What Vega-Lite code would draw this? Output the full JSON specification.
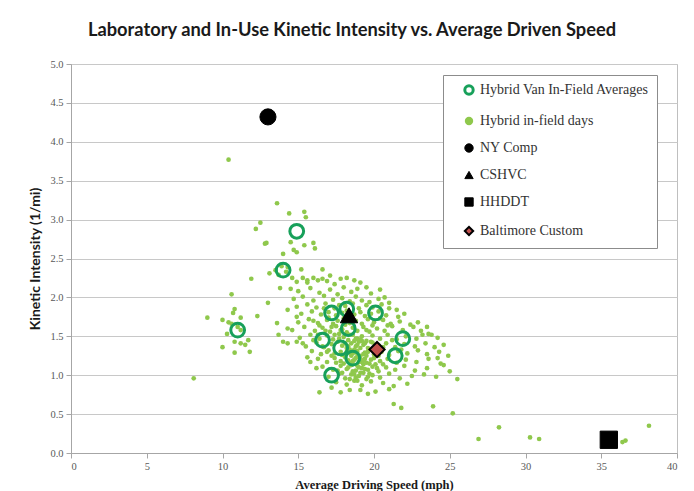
{
  "$schema": "https://vega.github.io/schema/vega-lite/v6.json",
  "autosize": "none",
  "width": 606,
  "height": 389,
  "padding": {"left": 71, "top": 64, "right": 17, "bottom": 38},
  "background": "white",
  "title": {
    "text": "Laboratory and In-Use Kinetic Intensity vs. Average Driven Speed",
    "font": "Lato",
    "fontSize": 18.3,
    "fontWeight": "bold",
    "color": "#1a1a1a",
    "anchor": "middle",
    "dx": -22,
    "offset": 19
  },
  "config": {
    "view": {"stroke": "#bfbfbf", "strokeWidth": 1},
    "axis": {
      "labelFont": "Liberation Serif",
      "labelFontSize": 10.5,
      "labelColor": "#595959",
      "domainColor": "#a6a6a6",
      "tickColor": "#a6a6a6",
      "tickSize": 5,
      "labelPadding": 3,
      "gridColor": "#c8c8c8",
      "titleColor": "#1a1a1a"
    },
    "legend": {
      "labelFont": "Liberation Serif",
      "labelFontSize": 14,
      "labelColor": "#333333",
      "labelLimit": 300
    }
  },
  "data": {
    "values": [
      {"g": "B", "speed": 11.9, "ki": 2.24}, {"g": "B", "speed": 10.6, "ki": 2.04}, {"g": "B", "speed": 9.0, "ki": 1.74}, {"g": "B", "speed": 10.0, "ki": 1.71},
      {"g": "B", "speed": 10.7, "ki": 1.8}, {"g": "B", "speed": 10.8, "ki": 1.85}, {"g": "B", "speed": 10.4, "ki": 1.68}, {"g": "B", "speed": 11.2, "ki": 1.74},
      {"g": "B", "speed": 12.3, "ki": 1.76}, {"g": "B", "speed": 13.0, "ki": 1.93}, {"g": "B", "speed": 11.2, "ki": 1.58}, {"g": "B", "speed": 10.3, "ki": 1.53},
      {"g": "B", "speed": 10.8, "ki": 1.43}, {"g": "B", "speed": 11.2, "ki": 1.41}, {"g": "B", "speed": 11.5, "ki": 1.39}, {"g": "B", "speed": 11.7, "ki": 1.45},
      {"g": "B", "speed": 11.8, "ki": 1.3}, {"g": "B", "speed": 10.0, "ki": 1.36}, {"g": "B", "speed": 10.8, "ki": 1.29}, {"g": "B", "speed": 8.1, "ki": 0.96},
      {"g": "B", "speed": 13.6, "ki": 1.67}, {"g": "B", "speed": 13.7, "ki": 1.52}, {"g": "B", "speed": 14.3, "ki": 1.84}, {"g": "B", "speed": 14.3, "ki": 1.6},
      {"g": "B", "speed": 14.0, "ki": 1.43}, {"g": "B", "speed": 10.4, "ki": 3.77}, {"g": "B", "speed": 11.0, "ki": 1.62}, {"g": "B", "speed": 10.6, "ki": 1.66},
      {"g": "B", "speed": 13.6, "ki": 3.21}, {"g": "B", "speed": 14.4, "ki": 3.08}, {"g": "B", "speed": 15.4, "ki": 3.1}, {"g": "B", "speed": 15.5, "ki": 3.03},
      {"g": "B", "speed": 12.5, "ki": 2.96}, {"g": "B", "speed": 12.2, "ki": 2.88}, {"g": "B", "speed": 12.9, "ki": 2.7}, {"g": "B", "speed": 12.8, "ki": 2.69},
      {"g": "B", "speed": 14.5, "ki": 2.71}, {"g": "B", "speed": 14.7, "ki": 2.61}, {"g": "B", "speed": 14.9, "ki": 2.58}, {"g": "B", "speed": 15.4, "ki": 2.67},
      {"g": "B", "speed": 16.0, "ki": 2.7}, {"g": "B", "speed": 16.1, "ki": 2.63}, {"g": "B", "speed": 14.0, "ki": 2.56}, {"g": "B", "speed": 13.1, "ki": 2.31},
      {"g": "B", "speed": 13.5, "ki": 2.35}, {"g": "B", "speed": 13.7, "ki": 2.29}, {"g": "B", "speed": 14.3, "ki": 2.39}, {"g": "B", "speed": 15.2, "ki": 2.36},
      {"g": "B", "speed": 16.6, "ki": 2.36}, {"g": "B", "speed": 14.6, "ki": 2.25}, {"g": "B", "speed": 14.9, "ki": 2.2}, {"g": "B", "speed": 15.3, "ki": 2.25},
      {"g": "B", "speed": 15.6, "ki": 2.22}, {"g": "B", "speed": 13.8, "ki": 2.12}, {"g": "B", "speed": 14.5, "ki": 2.11}, {"g": "B", "speed": 16.0, "ki": 2.25},
      {"g": "B", "speed": 16.3, "ki": 2.22}, {"g": "B", "speed": 16.6, "ki": 2.24}, {"g": "B", "speed": 13.9, "ki": 2.4}, {"g": "B", "speed": 14.2, "ki": 2.33},
      {"g": "B", "speed": 15.6, "ki": 2.19}, {"g": "B", "speed": 16.9, "ki": 2.21}, {"g": "B", "speed": 17.4, "ki": 2.17}, {"g": "B", "speed": 17.8, "ki": 2.24},
      {"g": "B", "speed": 18.2, "ki": 2.25}, {"g": "B", "speed": 18.7, "ki": 2.22}, {"g": "B", "speed": 19.1, "ki": 2.19}, {"g": "B", "speed": 19.5, "ki": 2.13},
      {"g": "B", "speed": 20.4, "ki": 2.1}, {"g": "B", "speed": 17.1, "ki": 2.28},
      {"g": "B", "speed": 15.0, "ki": 2.08}, {"g": "B", "speed": 15.8, "ki": 2.12}, {"g": "B", "speed": 16.4, "ki": 2.06}, {"g": "B", "speed": 17.1, "ki": 2.1},
      {"g": "B", "speed": 17.6, "ki": 2.04}, {"g": "B", "speed": 18.0, "ki": 2.13}, {"g": "B", "speed": 18.5, "ki": 2.07}, {"g": "B", "speed": 18.9, "ki": 2.11},
      {"g": "B", "speed": 19.8, "ki": 2.05}, {"g": "B", "speed": 20.7, "ki": 2.0},
      {"g": "B", "speed": 14.7, "ki": 1.98}, {"g": "B", "speed": 15.3, "ki": 2.01}, {"g": "B", "speed": 16.0, "ki": 1.96}, {"g": "B", "speed": 16.7, "ki": 2.02},
      {"g": "B", "speed": 17.3, "ki": 1.97}, {"g": "B", "speed": 17.9, "ki": 1.99}, {"g": "B", "speed": 18.4, "ki": 1.95}, {"g": "B", "speed": 18.8, "ki": 2.01},
      {"g": "B", "speed": 19.2, "ki": 1.96}, {"g": "B", "speed": 19.7, "ki": 1.94}, {"g": "B", "speed": 20.3, "ki": 1.98}, {"g": "B", "speed": 21.0, "ki": 1.93},
      {"g": "B", "speed": 14.9, "ki": 1.88}, {"g": "B", "speed": 15.6, "ki": 1.91}, {"g": "B", "speed": 16.2, "ki": 1.87}, {"g": "B", "speed": 16.8, "ki": 1.92},
      {"g": "B", "speed": 17.4, "ki": 1.86}, {"g": "B", "speed": 17.7, "ki": 1.9}, {"g": "B", "speed": 18.1, "ki": 1.89}, {"g": "B", "speed": 18.6, "ki": 1.92},
      {"g": "B", "speed": 19.0, "ki": 1.86}, {"g": "B", "speed": 19.5, "ki": 1.9}, {"g": "B", "speed": 19.9, "ki": 1.87}, {"g": "B", "speed": 20.5, "ki": 1.91},
      {"g": "B", "speed": 21.0, "ki": 1.86}, {"g": "B", "speed": 21.5, "ki": 1.84},
      {"g": "B", "speed": 14.9, "ki": 1.75}, {"g": "B", "speed": 15.2, "ki": 1.79}, {"g": "B", "speed": 15.9, "ki": 1.82}, {"g": "B", "speed": 16.5, "ki": 1.78},
      {"g": "B", "speed": 17.0, "ki": 1.81}, {"g": "B", "speed": 17.5, "ki": 1.77}, {"g": "B", "speed": 17.9, "ki": 1.8}, {"g": "B", "speed": 18.2, "ki": 1.83},
      {"g": "B", "speed": 18.7, "ki": 1.78}, {"g": "B", "speed": 19.1, "ki": 1.81}, {"g": "B", "speed": 19.4, "ki": 1.76}, {"g": "B", "speed": 19.8, "ki": 1.79},
      {"g": "B", "speed": 20.3, "ki": 1.82}, {"g": "B", "speed": 20.8, "ki": 1.77}, {"g": "B", "speed": 21.6, "ki": 1.75}, {"g": "B", "speed": 22.0, "ki": 1.79},
      {"g": "B", "speed": 15.0, "ki": 1.68}, {"g": "B", "speed": 15.7, "ki": 1.72}, {"g": "B", "speed": 16.3, "ki": 1.67}, {"g": "B", "speed": 16.9, "ki": 1.71},
      {"g": "B", "speed": 17.3, "ki": 1.66}, {"g": "B", "speed": 17.6, "ki": 1.7}, {"g": "B", "speed": 18.0, "ki": 1.73}, {"g": "B", "speed": 18.4, "ki": 1.67},
      {"g": "B", "speed": 18.8, "ki": 1.7}, {"g": "B", "speed": 19.2, "ki": 1.66}, {"g": "B", "speed": 19.6, "ki": 1.72}, {"g": "B", "speed": 20.0, "ki": 1.68},
      {"g": "B", "speed": 20.6, "ki": 1.71}, {"g": "B", "speed": 21.1, "ki": 1.66}, {"g": "B", "speed": 21.7, "ki": 1.69}, {"g": "B", "speed": 22.4, "ki": 1.65},
      {"g": "B", "speed": 22.9, "ki": 1.68},
      {"g": "B", "speed": 14.6, "ki": 1.58}, {"g": "B", "speed": 15.4, "ki": 1.62}, {"g": "B", "speed": 16.1, "ki": 1.57}, {"g": "B", "speed": 16.6, "ki": 1.61},
      {"g": "B", "speed": 17.1, "ki": 1.56}, {"g": "B", "speed": 17.5, "ki": 1.63}, {"g": "B", "speed": 17.9, "ki": 1.59}, {"g": "B", "speed": 18.2, "ki": 1.55},
      {"g": "B", "speed": 18.6, "ki": 1.61}, {"g": "B", "speed": 18.9, "ki": 1.57}, {"g": "B", "speed": 19.3, "ki": 1.62}, {"g": "B", "speed": 19.7, "ki": 1.56},
      {"g": "B", "speed": 20.2, "ki": 1.6}, {"g": "B", "speed": 20.7, "ki": 1.57}, {"g": "B", "speed": 21.2, "ki": 1.63}, {"g": "B", "speed": 21.9, "ki": 1.58},
      {"g": "B", "speed": 22.6, "ki": 1.62}, {"g": "B", "speed": 23.5, "ki": 1.62}, {"g": "B", "speed": 23.1, "ki": 1.57},
      {"g": "B", "speed": 15.1, "ki": 1.48}, {"g": "B", "speed": 15.8, "ki": 1.52}, {"g": "B", "speed": 16.4, "ki": 1.47}, {"g": "B", "speed": 16.9, "ki": 1.51},
      {"g": "B", "speed": 17.3, "ki": 1.46}, {"g": "B", "speed": 17.7, "ki": 1.53}, {"g": "B", "speed": 18.0, "ki": 1.49}, {"g": "B", "speed": 18.3, "ki": 1.45},
      {"g": "B", "speed": 18.6, "ki": 1.52}, {"g": "B", "speed": 18.9, "ki": 1.47}, {"g": "B", "speed": 19.2, "ki": 1.5}, {"g": "B", "speed": 19.5, "ki": 1.44},
      {"g": "B", "speed": 19.9, "ki": 1.51}, {"g": "B", "speed": 20.4, "ki": 1.47}, {"g": "B", "speed": 20.9, "ki": 1.52}, {"g": "B", "speed": 21.5, "ki": 1.46},
      {"g": "B", "speed": 22.1, "ki": 1.5}, {"g": "B", "speed": 22.8, "ki": 1.47}, {"g": "B", "speed": 23.2, "ki": 1.52}, {"g": "B", "speed": 23.8, "ki": 1.52},
      {"g": "B", "speed": 24.2, "ki": 1.48}, {"g": "B", "speed": 23.6, "ki": 1.53},
      {"g": "B", "speed": 15.3, "ki": 1.41}, {"g": "B", "speed": 15.5, "ki": 1.37}, {"g": "B", "speed": 16.2, "ki": 1.42}, {"g": "B", "speed": 16.7, "ki": 1.36},
      {"g": "B", "speed": 17.2, "ki": 1.4}, {"g": "B", "speed": 17.6, "ki": 1.43}, {"g": "B", "speed": 17.9, "ki": 1.38}, {"g": "B", "speed": 18.2, "ki": 1.35},
      {"g": "B", "speed": 18.5, "ki": 1.41}, {"g": "B", "speed": 18.8, "ki": 1.37}, {"g": "B", "speed": 19.0, "ki": 1.43}, {"g": "B", "speed": 19.3, "ki": 1.39},
      {"g": "B", "speed": 19.6, "ki": 1.35}, {"g": "B", "speed": 19.9, "ki": 1.42}, {"g": "B", "speed": 20.3, "ki": 1.38}, {"g": "B", "speed": 20.8, "ki": 1.41},
      {"g": "B", "speed": 21.4, "ki": 1.36}, {"g": "B", "speed": 22.0, "ki": 1.4}, {"g": "B", "speed": 22.7, "ki": 1.37}, {"g": "B", "speed": 23.4, "ki": 1.41},
      {"g": "B", "speed": 24.0, "ki": 1.36}, {"g": "B", "speed": 24.6, "ki": 1.39}, {"g": "B", "speed": 14.3, "ki": 1.41}, {"g": "B", "speed": 14.9, "ki": 1.43},
      {"g": "B", "speed": 15.9, "ki": 1.31}, {"g": "B", "speed": 16.5, "ki": 1.27}, {"g": "B", "speed": 17.0, "ki": 1.32}, {"g": "B", "speed": 17.4, "ki": 1.28},
      {"g": "B", "speed": 17.8, "ki": 1.3}, {"g": "B", "speed": 18.1, "ki": 1.26}, {"g": "B", "speed": 18.4, "ki": 1.33}, {"g": "B", "speed": 18.6, "ki": 1.28},
      {"g": "B", "speed": 18.9, "ki": 1.31}, {"g": "B", "speed": 19.1, "ki": 1.25}, {"g": "B", "speed": 19.4, "ki": 1.29}, {"g": "B", "speed": 19.7, "ki": 1.33},
      {"g": "B", "speed": 20.0, "ki": 1.27}, {"g": "B", "speed": 20.5, "ki": 1.3}, {"g": "B", "speed": 21.0, "ki": 1.26}, {"g": "B", "speed": 21.6, "ki": 1.31},
      {"g": "B", "speed": 22.2, "ki": 1.28}, {"g": "B", "speed": 22.9, "ki": 1.32}, {"g": "B", "speed": 23.5, "ki": 1.27}, {"g": "B", "speed": 24.3, "ki": 1.3},
      {"g": "B", "speed": 24.9, "ki": 1.25},
      {"g": "B", "speed": 15.6, "ki": 1.23}, {"g": "B", "speed": 16.3, "ki": 1.21}, {"g": "B", "speed": 16.9, "ki": 1.17}, {"g": "B", "speed": 17.4, "ki": 1.22},
      {"g": "B", "speed": 17.8, "ki": 1.18}, {"g": "B", "speed": 18.1, "ki": 1.23}, {"g": "B", "speed": 18.4, "ki": 1.16}, {"g": "B", "speed": 18.7, "ki": 1.2},
      {"g": "B", "speed": 18.9, "ki": 1.24}, {"g": "B", "speed": 19.2, "ki": 1.17}, {"g": "B", "speed": 19.4, "ki": 1.21}, {"g": "B", "speed": 19.7, "ki": 1.15},
      {"g": "B", "speed": 20.0, "ki": 1.22}, {"g": "B", "speed": 20.4, "ki": 1.18}, {"g": "B", "speed": 20.9, "ki": 1.21}, {"g": "B", "speed": 21.5, "ki": 1.16},
      {"g": "B", "speed": 22.1, "ki": 1.2}, {"g": "B", "speed": 22.8, "ki": 1.17}, {"g": "B", "speed": 23.6, "ki": 1.21}, {"g": "B", "speed": 24.2, "ki": 1.22},
      {"g": "B", "speed": 24.4, "ki": 1.15}, {"g": "B", "speed": 15.8, "ki": 1.17},
      {"g": "B", "speed": 16.2, "ki": 1.09}, {"g": "B", "speed": 16.6, "ki": 1.11}, {"g": "B", "speed": 17.3, "ki": 1.07}, {"g": "B", "speed": 17.8, "ki": 1.12},
      {"g": "B", "speed": 18.2, "ki": 1.08}, {"g": "B", "speed": 18.5, "ki": 1.13}, {"g": "B", "speed": 18.8, "ki": 1.06}, {"g": "B", "speed": 19.0, "ki": 1.1},
      {"g": "B", "speed": 19.3, "ki": 1.14}, {"g": "B", "speed": 19.6, "ki": 1.07}, {"g": "B", "speed": 19.9, "ki": 1.11}, {"g": "B", "speed": 20.3, "ki": 1.05},
      {"g": "B", "speed": 20.8, "ki": 1.1}, {"g": "B", "speed": 21.4, "ki": 1.07}, {"g": "B", "speed": 22.0, "ki": 1.12}, {"g": "B", "speed": 22.7, "ki": 1.06},
      {"g": "B", "speed": 23.5, "ki": 1.09}, {"g": "B", "speed": 24.6, "ki": 1.13}, {"g": "B", "speed": 25.0, "ki": 1.05},
      {"g": "B", "speed": 17.0, "ki": 0.98}, {"g": "B", "speed": 17.7, "ki": 1.02}, {"g": "B", "speed": 18.1, "ki": 0.96}, {"g": "B", "speed": 18.5, "ki": 1.01},
      {"g": "B", "speed": 18.8, "ki": 0.97}, {"g": "B", "speed": 19.1, "ki": 1.03}, {"g": "B", "speed": 19.5, "ki": 0.95}, {"g": "B", "speed": 19.9, "ki": 1.0},
      {"g": "B", "speed": 20.4, "ki": 0.97}, {"g": "B", "speed": 21.0, "ki": 1.02}, {"g": "B", "speed": 21.7, "ki": 0.96}, {"g": "B", "speed": 22.5, "ki": 0.99},
      {"g": "B", "speed": 23.3, "ki": 1.01}, {"g": "B", "speed": 25.5, "ki": 0.95}, {"g": "B", "speed": 24.1, "ki": 0.98},
      {"g": "B", "speed": 17.2, "ki": 0.84}, {"g": "B", "speed": 17.5, "ki": 0.91}, {"g": "B", "speed": 18.2, "ki": 0.88}, {"g": "B", "speed": 18.7, "ki": 0.93},
      {"g": "B", "speed": 19.2, "ki": 0.87}, {"g": "B", "speed": 19.8, "ki": 0.92}, {"g": "B", "speed": 20.6, "ki": 0.9}, {"g": "B", "speed": 21.3, "ki": 0.86},
      {"g": "B", "speed": 22.2, "ki": 0.89},
      {"g": "B", "speed": 16.4, "ki": 0.78}, {"g": "B", "speed": 17.8, "ki": 0.78}, {"g": "B", "speed": 18.4, "ki": 0.81}, {"g": "B", "speed": 19.1, "ki": 0.81},
      {"g": "B", "speed": 19.6, "ki": 0.76}, {"g": "B", "speed": 20.1, "ki": 0.79}, {"g": "B", "speed": 21.0, "ki": 0.82},
      {"g": "B", "speed": 21.3, "ki": 0.63}, {"g": "B", "speed": 21.8, "ki": 0.58}, {"g": "B", "speed": 23.9, "ki": 0.6}, {"g": "B", "speed": 25.2, "ki": 0.51},
      {"g": "B", "speed": 26.9, "ki": 0.18}, {"g": "B", "speed": 28.25, "ki": 0.33}, {"g": "B", "speed": 30.3, "ki": 0.2}, {"g": "B", "speed": 30.9, "ki": 0.18},
      {"g": "B", "speed": 36.4, "ki": 0.14}, {"g": "B", "speed": 36.6, "ki": 0.16}, {"g": "B", "speed": 38.15, "ki": 0.35},
      {"g": "B", "speed": 18.3, "ki": 1.19}, {"g": "B", "speed": 18.6, "ki": 1.14}, {"g": "B", "speed": 18.9, "ki": 1.28}, {"g": "B", "speed": 19.1, "ki": 1.35},
      {"g": "B", "speed": 19.3, "ki": 1.19}, {"g": "B", "speed": 19.5, "ki": 1.25}, {"g": "B", "speed": 18.7, "ki": 1.33}, {"g": "B", "speed": 19.0, "ki": 1.17},
      {"g": "B", "speed": 19.4, "ki": 1.08}, {"g": "B", "speed": 18.5, "ki": 1.25}, {"g": "B", "speed": 19.8, "ki": 1.2}, {"g": "B", "speed": 18.2, "ki": 1.3},
      {"g": "B", "speed": 19.2, "ki": 1.44}, {"g": "B", "speed": 18.8, "ki": 1.47}, {"g": "B", "speed": 18.4, "ki": 1.52}, {"g": "B", "speed": 19.6, "ki": 1.3},
      {"g": "B", "speed": 20.1, "ki": 1.14}, {"g": "B", "speed": 18.0, "ki": 1.15}, {"g": "B", "speed": 17.9, "ki": 1.26}, {"g": "B", "speed": 19.0, "ki": 0.99},
      {"g": "B", "speed": 18.6, "ki": 1.05}, {"g": "B", "speed": 19.7, "ki": 1.02},
      {"g": "B", "speed": 18.1, "ki": 1.41}, {"g": "B", "speed": 18.3, "ki": 1.37}, {"g": "B", "speed": 18.7, "ki": 1.44}, {"g": "B", "speed": 19.1, "ki": 1.46},
      {"g": "B", "speed": 19.4, "ki": 1.41}, {"g": "B", "speed": 18.9, "ki": 1.39}, {"g": "B", "speed": 18.4, "ki": 1.29}, {"g": "B", "speed": 18.8, "ki": 1.22},
      {"g": "B", "speed": 19.1, "ki": 1.21}, {"g": "B", "speed": 19.3, "ki": 1.27}, {"g": "B", "speed": 18.6, "ki": 1.18}, {"g": "B", "speed": 18.9, "ki": 1.12},
      {"g": "B", "speed": 19.2, "ki": 1.09}, {"g": "B", "speed": 19.5, "ki": 1.16}, {"g": "B", "speed": 18.3, "ki": 1.1}, {"g": "B", "speed": 18.7, "ki": 1.01},
      {"g": "B", "speed": 19.3, "ki": 1.03}, {"g": "B", "speed": 19.6, "ki": 0.98}, {"g": "B", "speed": 18.9, "ki": 0.93}, {"g": "B", "speed": 18.4, "ki": 0.95},
      {"g": "B", "speed": 17.6, "ki": 1.06}, {"g": "B", "speed": 17.9, "ki": 1.03}, {"g": "B", "speed": 20.2, "ki": 1.09}, {"g": "B", "speed": 20.6, "ki": 1.14},
      {"g": "B", "speed": 20.0, "ki": 1.33}, {"g": "B", "speed": 20.3, "ki": 1.25}, {"g": "B", "speed": 17.5, "ki": 1.16}, {"g": "B", "speed": 17.2, "ki": 1.25},
      {"g": "B", "speed": 16.9, "ki": 1.3}, {"g": "B", "speed": 16.6, "ki": 1.37}, {"g": "B", "speed": 16.0, "ki": 1.45}, {"g": "B", "speed": 16.3, "ki": 1.52},
      {"g": "B", "speed": 16.8, "ki": 1.57}, {"g": "B", "speed": 17.4, "ki": 1.52}, {"g": "B", "speed": 17.8, "ki": 1.58}, {"g": "B", "speed": 17.2, "ki": 1.62},
      {"g": "B", "speed": 16.4, "ki": 1.64}, {"g": "B", "speed": 16.0, "ki": 1.7}, {"g": "B", "speed": 17.0, "ki": 1.74}, {"g": "B", "speed": 16.7, "ki": 1.86},
      {"g": "B", "speed": 19.5, "ki": 1.58}, {"g": "B", "speed": 19.9, "ki": 1.64}, {"g": "B", "speed": 20.4, "ki": 1.73}, {"g": "B", "speed": 20.9, "ki": 1.64},
      {"g": "B", "speed": 19.8, "ki": 1.43}, {"g": "B", "speed": 20.6, "ki": 1.36}, {"g": "B", "speed": 21.2, "ki": 1.45}, {"g": "B", "speed": 21.8, "ki": 1.33},
      {"g": "B", "speed": 17.7, "ki": 1.47}, {"g": "B", "speed": 18.1, "ki": 1.65},
      {"g": "A", "speed": 11.0, "ki": 1.58}, {"g": "A", "speed": 14.0, "ki": 2.35}, {"g": "A", "speed": 14.9, "ki": 2.85}, {"g": "A", "speed": 16.6, "ki": 1.45},
      {"g": "A", "speed": 17.2, "ki": 1.0}, {"g": "A", "speed": 17.2, "ki": 1.8}, {"g": "A", "speed": 18.2, "ki": 1.85}, {"g": "A", "speed": 18.6, "ki": 1.22},
      {"g": "A", "speed": 17.8, "ki": 1.35}, {"g": "A", "speed": 20.1, "ki": 1.8}, {"g": "A", "speed": 21.9, "ki": 1.47}, {"g": "A", "speed": 21.4, "ki": 1.25},
      {"g": "A", "speed": 18.3, "ki": 1.6},
      {"g": "C", "speed": 13.0, "ki": 4.32},
      {"g": "D", "speed": 18.35, "ki": 1.77},
      {"g": "E", "speed": 35.5, "ki": 0.17},
      {"g": "F", "speed": 20.2, "ki": 1.33}
    ]
  },
  "mark": {"type": "point", "filled": true, "opacity": 1},
  "encoding": {
    "x": {
      "field": "speed",
      "type": "quantitative",
      "scale": {"domain": [0, 40], "nice": false, "zero": false},
      "axis": {
        "values": [0, 5, 10, 15, 20, 25, 30, 35, 40],
        "grid": false,
        "title": "Average Driving Speed (mph)",
        "titleFont": "Liberation Serif",
        "titleFontSize": 12.5,
        "titleFontWeight": "bold",
        "titlePadding": 7
      }
    },
    "y": {
      "field": "ki",
      "type": "quantitative",
      "scale": {"domain": [0, 5], "nice": false},
      "axis": {
        "values": [0, 0.5, 1, 1.5, 2, 2.5, 3, 3.5, 4, 4.5, 5],
        "format": ".1f",
        "grid": true,
        "title": "Kinetic Intensity (1/mi)",
        "titleFont": "Lato",
        "titleFontSize": 14,
        "titleFontWeight": "bold",
        "titlePadding": 7
      }
    },
    "shape": {
      "field": "g",
      "type": "nominal",
      "scale": {"domain": ["A", "B", "C", "D", "E", "F"], "range": ["circle", "circle", "circle", "triangle-up", "square", "diamond"]},
      "legend": {
        "title": null,
        "orient": "none",
        "legendX": 372,
        "legendY": 11,
        "padding": 8,
        "symbolOffset": 11,
        "labelOffset": 4,
        "rowPadding": 13,
        "strokeColor": "#8c8c8c",
        "fillColor": "white",
        "symbolSize": 70,
        "labelExpr": "{'A': 'Hybrid Van In-Field Averages', 'B': 'Hybrid in-field days', 'C': 'NY Comp', 'D': 'CSHVC', 'E': 'HHDDT', 'F': 'Baltimore Custom'}[datum.value]"
      }
    },
    "fill": {
      "field": "g",
      "type": "nominal",
      "scale": {"domain": ["A", "B", "C", "D", "E", "F"], "range": ["transparent", "#8fc84c", "#000000", "#000000", "#000000", "#c0504d"]}
    },
    "stroke": {
      "field": "g",
      "type": "nominal",
      "scale": {"domain": ["A", "B", "C", "D", "E", "F"], "range": ["#17a05a", "#8fc84c", "#000000", "#000000", "#000000", "#000000"]}
    },
    "strokeWidth": {
      "field": "g",
      "type": "nominal",
      "scale": {"type": "ordinal", "domain": ["A", "B", "C", "D", "E", "F"], "range": [3, 0, 1, 1, 1, 2]}
    },
    "size": {
      "condition": [
        {"test": "datum.g === 'B'", "value": 22},
        {"test": "datum.g === 'C'", "value": 260},
        {"test": "datum.g === 'D'", "value": 300},
        {"test": "datum.g === 'E'", "value": 300},
        {"test": "datum.g === 'F'", "value": 230}
      ],
      "value": 190
    }
  }
}
